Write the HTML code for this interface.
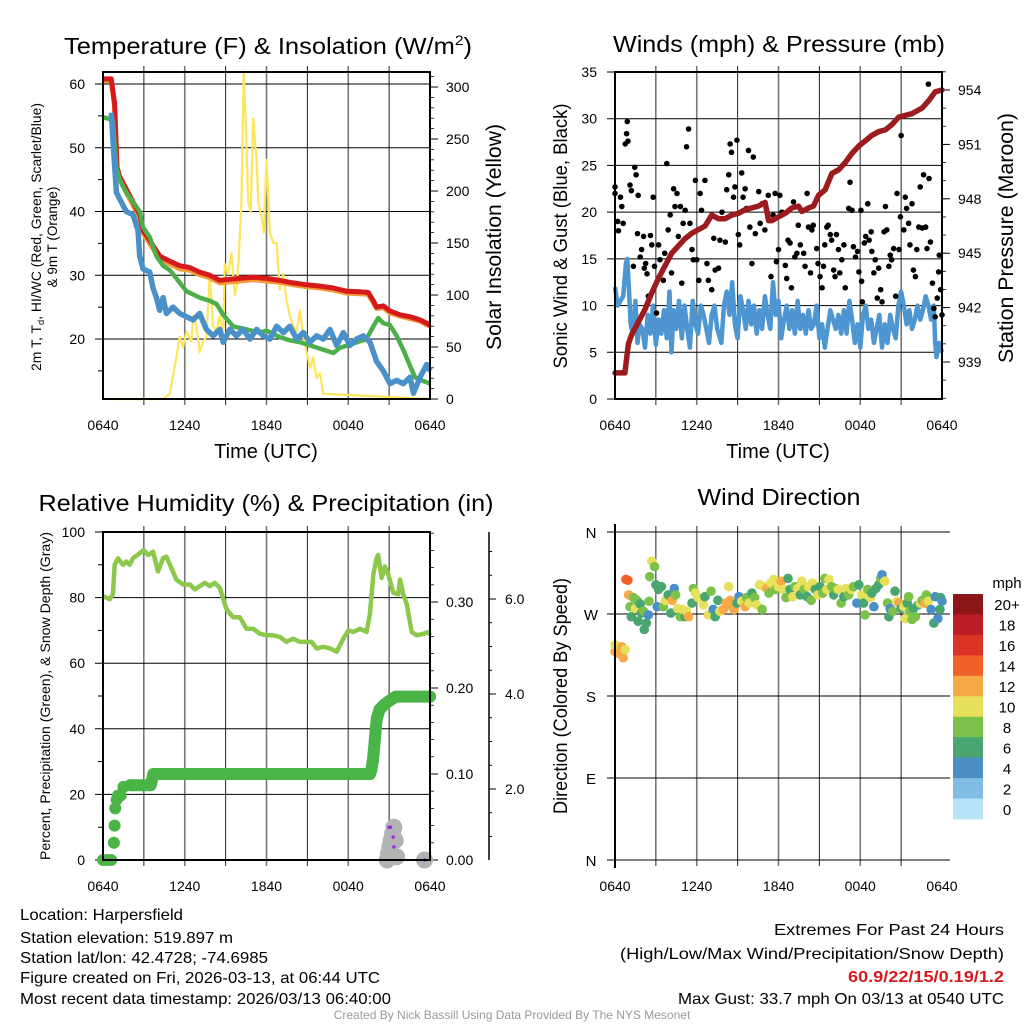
<!DOCTYPE html>
<html><head><meta charset="utf-8">
<style>
html,body{margin:0;padding:0;background:#fff;}
svg{display:block;font-family:"Liberation Sans",sans-serif;}
</style></head>
<body>
<svg id="fig" width="1024" height="1024" viewBox="0 0 1024 1024" xmlns="http://www.w3.org/2000/svg">
<rect width="1024" height="1024" fill="#fff"/>
<!-- Titles -->
<text x="268" y="54" font-size="23" text-anchor="middle" textLength="408" lengthAdjust="spacingAndGlyphs">Temperature (F) &amp; Insolation (W/m<tspan font-size="14" dy="-9">2</tspan><tspan dy="9">)</tspan></text>
<text x="779" y="52" font-size="23" text-anchor="middle" textLength="332" lengthAdjust="spacingAndGlyphs">Winds (mph) &amp; Pressure (mb)</text>
<text x="266" y="511" font-size="23" text-anchor="middle" textLength="455" lengthAdjust="spacingAndGlyphs">Relative Humidity (%) &amp; Precipitation (in)</text>
<text x="779" y="505" font-size="23" text-anchor="middle" textLength="163" lengthAdjust="spacingAndGlyphs">Wind Direction</text>
<!-- axis titles -->
<text transform="translate(41,237) rotate(-90)" font-size="13.5" text-anchor="middle" textLength="268" lengthAdjust="spacingAndGlyphs">2m T, T<tspan font-size="9" dy="3">d</tspan><tspan dy="-3">, HI/WC (Red, Green, Scarlet/Blue)</tspan></text>
<text transform="translate(57,237) rotate(-90)" font-size="13.5" text-anchor="middle">&amp; 9m T (Orange)</text>
<text transform="translate(501,237) rotate(-90)" font-size="21" text-anchor="middle" textLength="226" lengthAdjust="spacingAndGlyphs">Solar Insolation (Yellow)</text>
<text x="266" y="458" font-size="20" text-anchor="middle">Time (UTC)</text>
<text x="778" y="458" font-size="20" text-anchor="middle">Time (UTC)</text>
<text transform="translate(567,236) rotate(-90)" font-size="19" text-anchor="middle" textLength="265" lengthAdjust="spacingAndGlyphs">Sonic Wind &amp; Gust (Blue, Black)</text>
<text transform="translate(1013,238) rotate(-90)" font-size="21" text-anchor="middle" textLength="250" lengthAdjust="spacingAndGlyphs">Station Pressure (Maroon)</text>
<text transform="translate(50,696) rotate(-90)" font-size="13.5" text-anchor="middle" textLength="328" lengthAdjust="spacingAndGlyphs">Percent, Precipitation (Green), &amp; Snow Depth (Gray)</text>
<text transform="translate(567,696) rotate(-90)" font-size="19" text-anchor="middle" textLength="236" lengthAdjust="spacingAndGlyphs">Direction (Colored By Speed)</text>
<!-- footer -->
<g font-size="16">
<text x="20" y="920" textLength="163" lengthAdjust="spacingAndGlyphs">Location: Harpersfield</text>
<text x="20" y="943" textLength="213" lengthAdjust="spacingAndGlyphs">Station elevation: 519.897 m</text>
<text x="20" y="963" textLength="248" lengthAdjust="spacingAndGlyphs">Station lat/lon: 42.4728; -74.6985</text>
<text x="20" y="983" textLength="360" lengthAdjust="spacingAndGlyphs">Figure created on Fri, 2026-03-13, at 06:44 UTC</text>
<text x="20" y="1004" textLength="371" lengthAdjust="spacingAndGlyphs">Most recent data timestamp: 2026/03/13 06:40:00</text>
</g>
<g font-size="16" text-anchor="end">
<text x="1004" y="935" textLength="230" lengthAdjust="spacingAndGlyphs">Extremes For Past 24 Hours</text>
<text x="1004" y="959" textLength="384" lengthAdjust="spacingAndGlyphs">(High/Low/Max Wind/Precipitation/Snow Depth)</text>
<text x="1004" y="982" font-weight="bold" fill="#d7191c" textLength="156" lengthAdjust="spacingAndGlyphs">60.9/22/15/0.19/1.2</text>
<text x="1004" y="1004" textLength="326" lengthAdjust="spacingAndGlyphs">Max Gust: 33.7 mph On 03/13 at 0540 UTC</text>
</g>
<text x="512" y="1019" font-size="12" fill="#999" text-anchor="middle">Created By Nick Bassill Using Data Provided By The NYS Mesonet</text>
<g id="plots"></g>
</svg>
<script>
// ---------- DATA ----------
const tempTimes = [0,0.6,0.85,1.03,1.22,1.71,2.2,2.69,2.94,3.43,4.16,4.9,5.63,6.37,7.1,7.84,8.57,9.06,10.04,11.02,12,12.98,13.96,14.94,15.92,16.9,17.88,18.86,19.47,19.84,20.08,20.57,21.06,21.8,22.53,23.27,24];
const redTemp = [60.8,60.8,57,47,45.5,43.5,41.5,39.5,37,35.5,33,32.2,31.5,31.2,30.5,30,29.2,29.3,29.5,29.7,29.5,29.2,28.8,28.5,28.3,28,27.5,27.4,27.3,26,25,25.2,24.4,23.8,23.5,23,22.2];
const orangeTemp = [60.5,60.5,56.5,46.5,45,43,41,39,36.6,35,32.5,31.8,31,30.8,30.1,29.6,28.8,28.9,29.1,29.3,29.1,28.9,28.5,28.2,28,27.7,27.2,27.1,27,25.7,24.8,24.9,24.1,23.6,23.2,22.8,22];
const greenTimes = [0,0.49,0.73,0.98,1.22,1.71,2.2,2.69,2.94,3.43,3.92,4.41,4.9,5.39,6.12,7.1,7.84,8.33,8.82,9.55,10.53,11.51,12,12.98,13.72,14.45,15.19,15.92,16.9,17.39,18.37,19.35,19.84,20.2,20.57,21.06,21.55,22.04,22.53,22.9,23.39,24];
const greenTd = [54.8,54.5,54.3,47,45,43,41.5,40,37.5,36,33,31.5,30.8,29.5,27.5,26.5,26,25.5,23.8,22,21.5,21,21.3,20.3,19.8,19.5,19,18.5,17.8,18.6,19.3,20,22,23.3,22.5,22.2,20.5,18.3,15.8,14,13.5,13];
const blueTimes = [0.61,0.86,0.98,1.22,1.71,2.2,2.57,2.69,2.94,3.43,3.67,3.92,4.16,4.41,4.65,5.14,5.63,6.12,6.61,7.1,7.59,8.08,8.57,8.82,9.31,9.8,10.29,10.78,11.27,11.76,12.25,12.74,13.23,13.72,14.21,14.7,15.19,15.68,16.17,16.66,17.15,17.64,18.13,18.62,19.11,19.59,20.08,20.57,21.06,21.55,22.04,22.53,22.78,23.27,23.76,24];
const blueWC = [55.5,47,43,42,40,39.5,37,33,31,30.5,28,26.5,24.5,26.5,24,25,24,23.5,23,24,21.5,20.5,21.5,19.5,21.5,20.5,21.5,20,21.5,20.5,20,22,21,22,20,21,19.5,20.5,20,21.5,19,21,19,20,20.5,19.5,16.5,15,13,13.5,13,14,11.5,14,16,15];
const solarTimes = [0,4.41,4.9,5.39,5.63,5.88,6.12,6.49,6.61,6.86,7.1,7.35,7.59,7.84,8.08,8.33,8.57,8.82,8.94,9.18,9.43,9.67,9.84,9.98,10.16,10.33,10.49,10.66,10.84,11.02,11.27,11.39,11.63,11.8,12,12.25,12.49,12.74,12.98,13.23,13.47,13.72,13.96,14.21,14.45,14.7,14.94,15.19,15.43,15.68,15.92,16.17,24];
const solarRad = [0,0,5,40,60,50,65,55,80,70,45,55,60,120,70,65,80,60,130,120,140,100,110,140,190,315,260,190,180,270,230,190,175,160,230,160,150,150,105,120,95,80,70,65,85,60,45,30,40,20,25,5,0];

const windTimes = [0,0.2,0.4,0.6,0.8,0.9,1.05,1.15,1.3,1.5,1.65,1.8,2,2.2,2.4,2.6,2.8,3,3.2,3.4,3.6,3.8,4,4.15,4.3,4.5,4.7,4.9,5.1,5.3,5.5,5.7,5.9,6.1,6.3,6.5,6.7,6.9,7.1,7.3,7.5,7.8,8,8.2,8.4,8.6,8.8,9,9.2,9.4,9.6,9.8,10,10.2,10.4,10.6,10.8,11,11.2,11.4,11.6,11.8,12,12.2,12.4,12.6,12.8,13,13.2,13.4,13.6,13.8,14,14.2,14.4,14.6,14.8,15,15.2,15.4,15.6,15.8,16,16.2,16.4,16.6,16.8,17,17.2,17.4,17.6,17.8,18,18.2,18.4,18.6,18.8,19,19.2,19.4,19.6,19.8,20,20.2,20.4,20.6,20.8,21,21.2,21.4,21.6,21.8,22,22.2,22.4,22.6,22.8,23,23.2,23.4,23.5,23.6,23.8,24];
const windSpeed = [12,10,10.5,11,14.5,15,11,8,7,10.5,6,8,7.5,5.5,9,7,10,5.8,8.5,7,9.5,6.5,11.5,5,9.5,7.5,10.5,6.5,10,7.5,5.5,10.5,8,7,10,9,7.5,6,9,10,7.5,6,10,11.5,9,12.5,8,6.5,11,9.5,7.5,10.5,8,10,7,9.5,7.5,11,9,7.5,12.5,9,10.5,6.5,8.5,10,7.5,9.5,7,10.5,7.5,9,7,9.5,7.5,8,10,6.5,8,5.5,7.5,9.5,8.5,7.5,9,7,9.5,7,10.5,8.5,6,8,5.5,9,10,7.5,8.5,6,7.5,9,5.5,8,6,9,7.5,6.5,10,11.5,10,8,9.5,7.5,8.5,10,8.5,9.5,11,10,8.5,10,6,4.5,6,5];
const gustTimes = [0,0,0.2,0.25,0.4,0.5,0.6,0.75,0.85,0.9,0.95,1.1,1.2,1.35,1.45,1.55,1.65,1.7,1.85,1.95,2.1,2.15,2.25,2.35,2.45,2.6,2.7,2.8,2.9,3.05,3.2,3.3,3.55,3.65,3.8,3.9,4.05,4.15,4.3,4.4,4.55,4.65,4.8,4.9,5,5.15,5.25,5.4,5.5,5.65,5.75,5.9,6,6.15,6.25,6.35,6.6,6.75,6.85,7.1,7.25,7.35,7.6,7.7,7.85,8.1,8.2,8.35,8.45,8.55,8.7,8.8,8.95,9.05,9.15,9.3,9.4,9.55,9.65,9.8,9.9,10.05,10.15,10.3,10.55,10.65,10.8,11,11.25,11.45,11.6,11.75,11.85,12,12.1,12.25,12.5,12.6,12.7,12.85,12.95,13.1,13.2,13.35,13.45,13.6,13.85,13.95,14.1,14.2,14.35,14.45,14.55,14.8,14.9,15.05,15.2,15.3,15.4,15.55,15.65,15.8,15.9,16.05,16.15,16.25,16.4,16.5,16.65,16.8,16.9,17.15,17.25,17.4,17.5,17.65,17.8,17.9,18.05,18.1,18.15,18.3,18.4,18.55,18.65,18.8,18.85,19,19.1,19.25,19.35,19.5,19.6,19.75,19.85,19.95,20.1,20.2,20.3,20.45,20.6,20.7,20.85,20.95,21,21.2,21.3,21.4,21.55,21.65,21.8,21.9,22.05,22.15,22.3,22.4,22.55,22.65,22.8,22.9,23,23.05,23.15,23.3,23.4,23.5,23.65,23.75,23.8,23.9,24];
const gustSpeed = [22.7,22,19,18,21.6,20.6,18.8,27.3,28.4,29.7,27.6,22.9,22.3,14.2,24.8,24,17.7,21.8,15.2,16,17.4,14,14.5,13.4,11,17.5,16.5,21.6,14.2,9.2,16.5,14.9,12.7,15.6,25.2,18.1,19.7,13.5,22.5,20.6,22,17.4,20.6,12.4,18.8,20.2,27,28.9,18.8,16,14.9,23.4,14.9,12.7,22,20.2,23.4,14.5,12.7,11.7,17.2,13.8,14,17,20,16.8,22.4,24,27.3,26.4,21.6,22.7,27.7,17.6,16.5,24.2,21.6,22.5,20.4,26.6,18.4,14.5,25.9,17.7,22.2,18.8,20.9,18.1,21.8,13.1,19.7,22,14.7,16,21.8,20,14.3,12.9,17,16.7,11.9,21.1,15.2,15.6,18.6,16.5,15.6,14.2,22,18.4,13.5,18.1,18.6,16.1,14.5,13.1,11.9,14.2,16.5,18.4,18.6,17.6,17,13.8,13.1,17.6,16,13.5,14.9,16.5,11.9,20.4,23.2,20.2,16.3,15.2,15.8,13.6,20.2,12.6,10.4,16.7,17.4,20.9,17,17.9,15.8,13.5,14.9,10.8,14,11.7,10.4,17.9,20.6,18.1,14.2,15.4,14.9,16.1,11,22,16,19.5,28.2,18.1,21.6,20.4,18.8,16.5,20.9,13.8,13.1,16,18.4,22.7,18.3,24,18.4,16.1,33.7,23.6,16.8,12.4,9.7,8.8,10.8,13.6,15.4,11.7,9];
const pressTimes = [0,0.73,0.98,1.22,1.71,2.2,2.69,3.18,3.67,4.16,4.65,5.14,5.63,6.12,6.61,7.1,7.59,8.08,8.57,9.06,9.55,10.04,10.53,11.02,11.27,11.51,12,12.49,12.98,13.47,13.72,14.21,14.57,14.94,15.43,15.92,16.41,16.9,17.39,17.88,18.37,18.86,19.35,19.84,20.33,20.82,21.31,21.8,22.53,23.02,23.51,24];
const pressure = [938.4,938.4,940,940.5,941.2,941.9,942.8,943.6,944.3,945,945.4,945.8,946.1,946.3,946.5,947.1,946.9,946.9,947.1,947.2,947.4,947.5,947.6,947.8,946.8,946.8,947,947.2,947.5,947.6,947.3,947.5,947.6,948.2,948.5,949.4,949.6,950,950.5,950.9,951.2,951.5,951.7,951.8,952.1,952.5,952.6,952.7,953,953.4,953.9,954];

const rhTimes = [0,0.24,0.49,0.73,0.86,1.1,1.47,1.71,1.96,2.2,2.69,2.98,3.31,3.67,4.04,4.41,4.65,5.02,5.39,5.88,6.37,6.74,7.1,7.47,7.84,8.2,8.57,9.06,9.55,10.04,10.53,11.02,11.51,12,12.49,12.98,13.47,13.96,14.45,14.94,15.31,15.68,16.17,16.66,17.15,17.64,18.01,18.37,18.86,19.35,19.59,19.84,20.08,20.2,20.45,20.69,20.94,21.31,21.67,21.8,22.04,22.29,22.66,23.04,23.53,23.9,24];
const rhValues = [80.4,80,79.5,81,90,92,90,91,90,92,93.5,94.5,93,94,88,92,92.5,89,85.5,84,84,82.5,83.5,84.5,83.5,84.5,83,76.5,74,74,70.5,70.5,69,68.5,68.5,68,66.5,67.5,66.5,66.5,66.5,64.5,65,64.5,63.5,67.5,70,69.5,70.5,69.5,75,87,92,93,86,89.5,87,81.5,81,85.5,81,78,69.5,68.5,69,69.5,68.5];
const precipTimes = [0,0.3,0.6,0.8,0.85,0.9,1.0,1.1,1.3,1.5,2.0,3.5,3.7,19.6,19.7,19.8,19.9,20.0,20.1,20.3,20.6,21.0,21.5,24];
const precipIn = [0,0,0,0.02,0.04,0.06,0.07,0.075,0.075,0.085,0.087,0.087,0.10,0.10,0.105,0.115,0.13,0.15,0.165,0.175,0.18,0.185,0.19,0.19];
const snowTimes = [20.85,20.95,21.05,21.15,21.25,21.35,21.45,21.55,23.6];
const snowDepth = [0,2,4,6,8,10,6,1,0];   // plotted in left-axis units
const snowPurpleTimes = [21.0,21.1,21.3,21.35,23.6];
const snowPurpleVals = [10,10,7,4,0];

const dirTimes = [0,0,0.25,0.5,0.6,0.75,0.8,0.95,1,1.1,1.2,1.35,1.5,1.6,1.7,1.85,1.95,2.1,2.15,2.3,2.45,2.5,2.55,2.7,2.9,3,3.1,3.2,3.4,3.55,3.7,3.9,4.1,4.2,4.35,4.45,4.6,4.8,4.95,5.15,5.25,5.4,5.65,5.75,5.9,6.1,6.5,6.6,6.85,7.05,7.2,7.35,7.55,7.7,7.95,8.15,8.35,8.45,8.6,8.75,8.95,9.1,9.3,9.55,9.65,9.85,10.05,10.25,10.4,10.6,10.8,10.95,11.15,11.3,11.45,11.65,11.8,12,12.2,12.35,12.55,12.7,12.85,13.05,13.2,13.4,13.6,13.7,13.9,14.1,14.2,14.4,14.5,14.7,14.9,15.05,15.25,15.4,15.55,15.7,15.9,16.05,16.2,16.4,16.6,16.8,16.95,17.15,17.35,17.5,17.75,17.9,18.1,18.25,18.35,18.55,18.75,18.85,19,19.15,19.35,19.5,19.6,19.8,20,20.1,20.2,20.4,20.55,20.7,20.85,21,21.2,21.3,21.45,21.55,21.65,21.8,21.9,22.05,22.25,22.4,22.55,22.75,22.85,23,23.2,23.4,23.5,23.7,23.85,23.9,24];
const dirDeg = [229,236,227,234,222,231,308,307,291,278,267,288,276,285,262,281,271,273,253,260,269,284,311,328,322,302,278,297,300,278,285,291,271,285,298,291,276,267,275,267,273,267,282,298,293,288,280,289,269,295,275,267,285,273,275,282,300,285,278,275,282,289,284,278,288,282,293,288,280,302,275,300,298,293,304,308,297,300,306,297,288,309,297,289,300,298,291,306,297,289,300,285,304,297,291,300,293,309,297,308,300,291,298,297,282,289,298,291,297,300,282,302,291,282,269,297,288,293,278,298,302,309,313,306,282,267,276,273,295,284,282,276,278,265,282,289,273,264,276,267,280,282,285,282,291,284,275,260,289,265,275,288,284];
const dirSpeed = [12.5,10.5,12.5,12.5,12.5,10.5,14.5,14.5,12.5,8.5,6.5,8.5,10.5,8.5,6.5,6.5,6.5,8.5,6.5,6.5,4.5,8.5,8.5,10.5,8.5,6.5,4.5,6.5,6.5,8.5,10.5,6.5,6.5,12.5,4.5,8.5,10.5,8.5,10.5,6.5,10.5,12.5,6.5,8.5,10.5,10.5,10.5,6.5,10.5,8.5,4.5,6.5,6.5,10.5,12.5,12.5,10.5,12.5,12.5,12.5,6.5,4.5,10.5,12.5,8.5,10.5,6.5,8.5,10.5,10.5,8.5,10.5,12.5,8.5,10.5,10.5,8.5,10.5,12.5,10.5,8.5,6.5,6.5,10.5,8.5,10.5,6.5,10.5,8.5,6.5,10.5,8.5,10.5,6.5,10.5,6.5,8.5,8.5,10.5,10.5,8.5,6.5,8.5,10.5,8.5,6.5,10.5,8.5,10.5,8.5,4.5,6.5,10.5,6.5,8.5,8.5,10.5,6.5,4.5,6.5,6.5,8.5,4.5,10.5,8.5,6.5,4.5,8.5,6.5,10.5,12.5,6.5,10.5,10.5,6.5,8.5,8.5,8.5,6.5,8.5,6.5,10.5,8.5,12.5,8.5,10.5,4.5,6.5,4.5,4.5,6.5,6.5,4.5];
const speedBins = [0,2,4,6,8,10,12,14,16,18,20];
const speedLabels = ["0","2","4","6","8","10","12","14","16","18","20+"];
const speedColors = ["#b7e3f7","#80bce4","#4a90c7","#49a671","#7cc24a","#e7e05a","#f6a946","#ef6129","#dc3327","#bb1e25","#8d1619"];
const xTickLabels = ["0640","1240","1840","0040","0640"];
const tempTicks = [20,30,40,50,60];
const solarTicks = [0,50,100,150,200,250,300];
const windTicks = [0,5,10,15,20,25,30,35];
const pressTicks = [939,942,945,948,951,954];
const rhTicks = [0,20,40,60,80,100];
const precipTicks = [0,0.1,0.2,0.3];
const snowTicks = [2,4,6];
const dirTicks = [0,90,180,270,360];
const dirLabels = ["N","E","S","W","N"];

// ---------- HELPERS ----------
const NS = "http://www.w3.org/2000/svg";
const root = document.getElementById("plots");
function el(tag, attrs, parent) {
  const e = document.createElementNS(NS, tag);
  for (const k in attrs) e.setAttribute(k, attrs[k]);
  (parent || root).appendChild(e);
  return e;
}
function lin(d0, d1, r0, r1) { return v => r0 + (v - d0) * (r1 - r0) / (d1 - d0); }
function pathD(xs, ys, fx, fy) { return xs.map((t, i) => (i ? "L" : "M") + fx(t).toFixed(1) + "," + fy(ys[i]).toFixed(1)).join(""); }

function frame(L, R, T, B, fx, name) {
  for (let h = 3; h < 24; h += 3) {
    const g = el("line", {x1: fx(h), x2: fx(h), y1: T - 6, y2: B + 6, stroke: h % 6 === 0 ? "#777" : "#222", "stroke-width": h % 6 === 0 ? 1.6 : 1});
    
    
  }
  xTickLabels.forEach((lab, i) => {
    const t = el("text", {x: fx(i * 6), y: B + 31, "font-size": 14, "text-anchor": "middle"});
    t.textContent = lab;
    
    
  });
}
function border(L, R, T, B, name) {
  const r = el("rect", {x: L, y: T, width: R - L, height: B - T, fill: "none", stroke: "#000", "stroke-width": 2});
  
  
}
function hgrid(ticks, fy, L, R, name, labels, lx) {
  ticks.forEach((v, i) => {
    const g = el("line", {x1: L - 8, x2: R, y1: fy(v), y2: fy(v), stroke: "#000", "stroke-width": 1});
    
    
    const t = el("text", {x: lx, y: fy(v) + 5, "font-size": 14, "text-anchor": "end"});
    t.textContent = labels ? labels[i] : v;
    
    
  });
}
function rightAxis(ticks, fy, R, name, fmt, lx, T, B, minorStep, lo, hi) {
  for (let v = lo; v <= hi + 1e-9; v += minorStep) {
    const y = fy(v);
    if (y < T - 0.5 || y > B + 0.5) continue;
    const m = el("line", {x1: R, x2: R + 4, y1: y, y2: y, stroke: "#000", "stroke-width": 0.8});
    
    
  }
  ticks.forEach(v => {
    const k = el("line", {x1: R, x2: R + 8, y1: fy(v), y2: fy(v), stroke: "#000", "stroke-width": 1});
    
    
    const t = el("text", {x: lx, y: fy(v) + 5, "font-size": 14});
    t.textContent = fmt(v);
    
    
  });
}

// ---------- PANEL 1: Temperature ----------
(function () {
  const L = 103, R = 430, T = 72, B = 399;
  const fx = lin(0, 24, L, R), fy = lin(60, 20, 84, 339), fs = lin(0, 300, 399, 87);
  frame(L, R, T, B, fx, "temp");
  hgrid(tempTicks, fy, L, R, "temp", null, 85);
  [15, 25, 35, 45, 55].forEach(v => {
    const m = el("line", {x1: L - 5, x2: L, y1: fy(v), y2: fy(v), stroke: "#000"});
    
    
  });
  rightAxis(solarTicks, fs, R, "solar", v => v, 446, T, B, 10, 0, 310);
  const ys = el("path", {d: pathD(solarTimes, solarRad, fx, fs), fill: "none", stroke: "#fde55c", "stroke-width": 2.2, "stroke-linejoin": "round"});
  
  
  const og = el("path", {d: pathD(tempTimes, orangeTemp, fx, fy), fill: "none", stroke: "#f39a3a", "stroke-width": 5, "stroke-linejoin": "round"});
  
  
  const rd = el("path", {d: pathD(tempTimes, redTemp, fx, fy), fill: "none", stroke: "#d7191c", "stroke-width": 5, "stroke-linejoin": "round"});
  
  
  const gr = el("path", {d: pathD(greenTimes, greenTd, fx, fy), fill: "none", stroke: "#4daf4a", "stroke-width": 4.5, "stroke-linejoin": "round"});
  
  
  const bl = el("path", {d: pathD(blueTimes, blueWC, fx, fy), fill: "none", stroke: "#4a90c9", "stroke-width": 5.5, "stroke-linejoin": "round"});
  
  
  border(L, R, T, B, "temp");
})();

// ---------- PANEL 2: Winds ----------
(function () {
  const L = 615, R = 942, T = 72, B = 399;
  const fx = lin(0, 24, L, R), fy = lin(0, 35, 399, 72), fp = lin(939, 954, 362, 90);
  frame(L, R, T, B, fx, "wind");
  hgrid(windTicks, fy, L, R, "wind", null, 597);
  rightAxis(pressTicks, fp, R, "pressure", v => v, 958, T, B, 1, 937, 955);
  const bl = el("path", {d: pathD(windTimes, windSpeed, fx, fy), fill: "none", stroke: "#4d96d2", "stroke-width": 4.5, "stroke-linejoin": "round"});
  
  
  gustTimes.forEach((t, i) => {
    const c = el("circle", {cx: fx(t), cy: fy(gustSpeed[i]), r: 2.8, fill: "#000"});
    
    
  });
  const pr = el("path", {d: pathD(pressTimes, pressure, fx, fp), fill: "none", stroke: "#9b1b1e", "stroke-width": 5.5, "stroke-linejoin": "round", "stroke-linecap": "round"});
  
  
  border(L, R, T, B, "wind");
})();

// ---------- PANEL 3: RH & Precip ----------
(function () {
  const L = 103, R = 430, T = 532, B = 860;
  const fx = lin(0, 24, L, R), fy = lin(0, 100, 860, 532), fp = lin(0, 0.1, 860, 774), fsn = lin(2, 6, 789, 599);
  frame(L, R, T, B, fx, "rh");
  hgrid(rhTicks, fy, L, R, "rh", null, 85);
  [10, 30, 50, 70, 90].forEach(v => {
    const m = el("line", {x1: L - 5, x2: L, y1: fy(v), y2: fy(v), stroke: "#000"});
    
    
  });
  rightAxis(precipTicks, fp, R, "precip", v => v.toFixed(2), 446, T, B, 0.02, 0, 0.38);
  const sa = el("line", {x1: 489, x2: 489, y1: T, y2: B, stroke: "#000", "stroke-width": 1.5});
  
  
  for (let v = 0.5; v <= 7; v += 0.5) {
    const y = fsn(v);
    if (y < T || y > B) continue;
    const m = el("line", {x1: 489, x2: v % 2 === 0 ? 496 : 492, y1: y, y2: y, stroke: "#000"});
    
    
  }
  snowTicks.forEach(v => {
    const t = el("text", {x: 505, y: fsn(v) + 5, "font-size": 14});
    t.textContent = v.toFixed(1);
    
    
  });
  const rh = el("path", {d: pathD(rhTimes, rhValues, fx, fy), fill: "none", stroke: "#8cc84b", "stroke-width": 4.5, "stroke-linejoin": "round"});
  
  
  const pl = el("path", {d: pathD(precipTimes.slice(10), precipIn.slice(10), fx, fp), fill: "none", stroke: "#4bb447", "stroke-width": 12, "stroke-linejoin": "round", "stroke-linecap": "round"});
  
  
  precipTimes.forEach((t, i) => {
    const c = el("circle", {cx: fx(t), cy: fp(precipIn[i]), r: 6, fill: "#4bb447"});
    
    
  });
  snowTimes.forEach((t, i) => {
    const c = el("circle", {cx: fx(t), cy: fy(snowDepth[i]), r: 8.5, fill: "#b3b3b3"});
    
    
  });
  snowPurpleTimes.forEach((t, i) => {
    const c = el("circle", {cx: fx(t), cy: fy(snowPurpleVals[i]), r: 1.8, fill: "#9b30e0"});
    
    
  });
  border(L, R, T, B, "rh");
})();

// ---------- PANEL 4: Wind Direction ----------
(function () {
  const L = 615, R = 942, T = 532, B = 860;
  const fx = lin(0, 24, L, R), fy = lin(0, 360, 860, 532);
  frame(L, R, T, B, fx, "dir");
  dirTicks.forEach((v, i) => {
    const g = el("line", {x1: L - 8, x2: R + 8, y1: fy(v), y2: fy(v), stroke: "#000", "stroke-width": 1});
    
    
    const t = el("text", {x: 591, y: fy(v) + 6, "font-size": 15, "text-anchor": "middle"});
    t.textContent = dirLabels[i];
    
    
  });
  function colorFor(s) { let k = 0; for (let j = 0; j < speedBins.length; j++) if (s >= speedBins[j]) k = j; return speedColors[k]; }
  dirTimes.forEach((t, i) => {
    const c = el("circle", {cx: fx(t), cy: fy(dirDeg[i]), r: 4.8, fill: colorFor(dirSpeed[i])});
    
    
  });
  const lx = el("line", {x1: L, x2: L, y1: T - 8, y2: B + 8, stroke: "#000", "stroke-width": 2});
  
  
  const cbTop = 594, cbH = 225, n = speedColors.length, bh = cbH / n;
  for (let j = 0; j < n; j++) {
    const idx = n - 1 - j;
    const r = el("rect", {x: 953, y: cbTop + j * bh, width: 30, height: bh + 0.5, fill: speedColors[idx]});
    
    
    const t = el("text", {x: 1007, y: cbTop + j * bh + bh / 2 + 6, "font-size": 15, "text-anchor": "middle"});
    t.textContent = speedLabels[idx];
    
    
  }
  const u = el("text", {x: 1007, y: 588, "font-size": 15, "text-anchor": "middle"});
  u.textContent = "mph";
  
  
})();
</script>
</body></html>
